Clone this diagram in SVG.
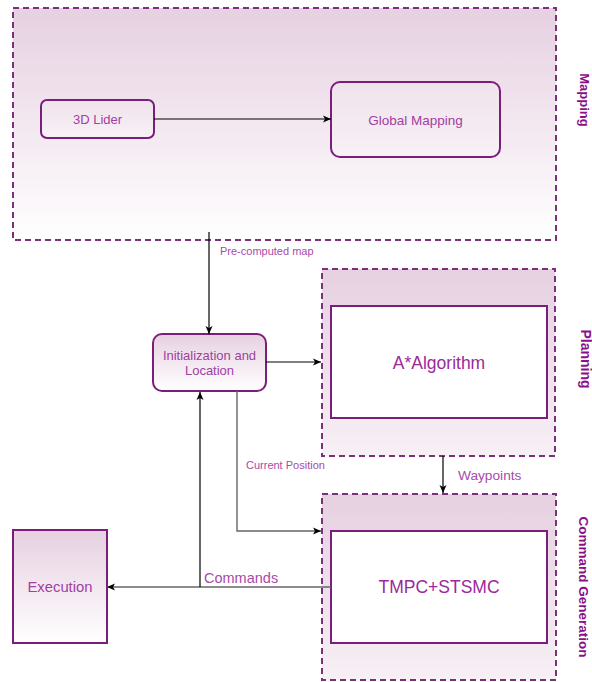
<svg xmlns="http://www.w3.org/2000/svg" width="592" height="682" viewBox="0 0 592 682">
<defs>
<linearGradient id="gBig" x1="0" y1="0" x2="0" y2="1"><stop offset="0" stop-color="#e6d0e1"/><stop offset="1" stop-color="#ffffff"/></linearGradient>
<linearGradient id="gPanel" x1="0" y1="0" x2="0" y2="1"><stop offset="0" stop-color="#e6d0e1"/><stop offset="1" stop-color="#f7f0f5"/></linearGradient>
<linearGradient id="gNode" x1="0" y1="0" x2="0" y2="1"><stop offset="0" stop-color="#e6d0e1"/><stop offset="1" stop-color="#ffffff"/></linearGradient>
<linearGradient id="gSoft" x1="0" y1="0" x2="0" y2="1"><stop offset="0" stop-color="#efe2ec"/><stop offset="1" stop-color="#f8f1f6"/></linearGradient>
<marker id="arr" markerUnits="userSpaceOnUse" markerWidth="10" markerHeight="10" refX="9" refY="5" orient="auto"><path d="M1,1.5 L9,5 L1,8.5 L3,5 Z" fill="#000"/></marker>
</defs>
<style>
.cont{stroke:#7a307a;stroke-width:2;stroke-dasharray:6 4}
.node{stroke:#7b1d7b;stroke-width:2}
.t{font-family:"Liberation Sans",Arial,sans-serif;fill:#a0409f;text-anchor:middle}
.lab{font-family:"Liberation Sans",Arial,sans-serif;fill:#a84aa8}
.vt{font-family:"Liberation Sans",Arial,sans-serif;fill:#8a0f8a;font-weight:bold;text-anchor:middle}
.c{fill:none;stroke:#000;stroke-width:1.2;marker-end:url(#arr)}
.cg{fill:none;stroke:#666;stroke-width:1.4;marker-end:url(#arr)}
</style>
<g id="mapping">
<rect class="cont" x="13" y="8" width="543" height="232" fill="url(#gBig)"/>
<text class="vt" font-size="13" transform="translate(580,100) rotate(90)">Mapping</text>
</g>
<g id="planning">
<rect class="cont" x="322" y="269" width="233" height="187" fill="url(#gPanel)"/>
<text class="vt" font-size="14" transform="translate(581,359) rotate(90)">Planning</text>
</g>
<g id="command-generation">
<rect class="cont" x="322" y="494" width="234" height="186" fill="url(#gPanel)"/>
<text class="vt" font-size="13.5" transform="translate(579,587) rotate(90)">Command Generation</text>
</g>
<g id="lider">
<rect class="node" x="41" y="100" width="113" height="38" rx="6" fill="url(#gSoft)"/>
<text class="t" x="97.5" y="124" font-size="13">3D Lider</text>
</g>
<g id="global-mapping">
<rect class="node" x="331" y="82" width="169" height="75" rx="9" fill="url(#gSoft)"/>
<text class="t" x="415.5" y="124.5" font-size="13.5">Global Mapping</text>
</g>
<g id="init">
<rect class="node" x="153" y="334" width="113" height="57" rx="9" fill="url(#gNode)"/>
<text class="t" x="209.5" y="360" font-size="13">Initialization and</text>
<text class="t" x="209.5" y="375" font-size="13">Location</text>
</g>
<g id="astar">
<rect class="node" x="331" y="306" width="216" height="112" fill="#ffffff"/>
<text class="t" x="439" y="369" font-size="17.5" style="fill:#9a2a9a">A*Algorithm</text>
</g>
<g id="tmpc">
<rect class="node" x="331" y="531" width="216" height="112" fill="#ffffff"/>
<text class="t" x="439" y="593" font-size="17.5" style="fill:#9a2a9a">TMPC+STSMC</text>
</g>
<g id="execution">
<rect class="node" x="13" y="530" width="94" height="113" fill="url(#gNode)"/>
<text class="t" x="60" y="592" font-size="14.8">Execution</text>
</g>
<g id="connectors">
<line class="c" x1="154" y1="119" x2="331" y2="119"/>
<line class="c" x1="209" y1="232" x2="209" y2="334"/>
<line class="c" x1="266" y1="362" x2="321" y2="362"/>
<path class="cg" d="M237,391 V531 H321"/>
<line class="c" x1="443" y1="456" x2="443" y2="493"/>
<line class="cg" x1="331" y1="587" x2="107" y2="587"/>
<line class="c" x1="200" y1="587" x2="200" y2="392"/>
<text class="lab" x="220" y="255" font-size="11">Pre-computed map</text>
<text class="lab" x="246" y="469" font-size="11">Current Position</text>
<text class="lab" x="458" y="480" font-size="13.7">Waypoints</text>
<text class="lab" x="204" y="583" font-size="14.5">Commands</text>
</g>
</svg>
